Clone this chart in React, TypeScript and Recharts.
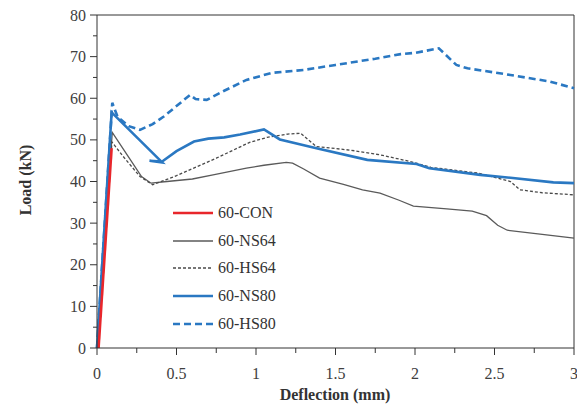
import React from 'react';
import { LineChart, Line, XAxis, YAxis, ReferenceLine } from 'recharts';

// deflection (mm), load (kN) pairs
const con60 = [[0.01, 0], [0.092, 48]];
const ns64 = [
  [0, 0], [0.096, 51.8], [0.2, 45.8], [0.28, 41.2], [0.34, 39.6], [0.44, 40.0], [0.6, 40.6],
  [0.73, 41.6], [0.94, 43.2], [1.05, 43.9], [1.19, 44.6], [1.23, 44.4], [1.3, 43.0], [1.4, 40.8],
  [1.55, 39.3], [1.67, 38.0], [1.78, 37.2], [1.9, 35.5], [1.99, 34.1], [2.2, 33.4], [2.36, 32.9],
  [2.45, 31.8], [2.52, 29.5], [2.58, 28.3], [2.8, 27.3], [3.0, 26.4],
];
const hs64 = [
  [0, 0], [0.094, 49.5], [0.165, 46.0], [0.27, 41.2], [0.35, 39.2], [0.5, 41.4], [0.75, 45.6],
  [0.96, 49.4], [1.07, 50.6], [1.2, 51.4], [1.28, 51.6], [1.38, 48.4], [1.6, 47.5], [1.78, 46.4],
  [1.97, 44.8], [2.1, 43.4], [2.4, 42.0], [2.6, 40.0], [2.66, 38.0], [2.8, 37.3], [3.0, 36.8],
];
const ns80 = [
  [0, 0], [0.092, 56.6], [0.41, 44.6], [0.33, 45.0], [0.41, 44.8], [0.5, 47.3], [0.61, 49.6],
  [0.7, 50.3], [0.8, 50.6], [0.9, 51.3], [1.05, 52.5], [1.15, 50.1], [1.38, 48.0], [1.7, 45.2],
  [2.01, 44.2], [2.09, 43.2], [2.41, 41.6], [2.6, 40.9], [2.87, 39.8], [3.0, 39.6],
];
const hs80 = [
  [0, 0], [0.096, 58.9], [0.13, 55.5], [0.2, 53.3], [0.27, 52.4], [0.35, 53.8], [0.42, 55.6],
  [0.585, 60.8], [0.62, 59.8], [0.69, 59.6], [0.8, 61.8], [0.94, 64.4], [1.1, 66.1], [1.3, 66.8],
  [1.5, 68.0], [1.75, 69.5], [1.91, 70.6], [2.0, 70.9], [2.15, 72.0], [2.26, 68.0], [2.33, 67.2],
  [2.6, 65.6], [2.85, 64.0], [3.0, 62.4],
];

const xTicks = [0, 0.25, 0.5, 0.75, 1, 1.25, 1.5, 1.75, 2, 2.25, 2.5, 2.75, 3];
const yTicks = [0, 5, 10, 15, 20, 25, 30, 35, 40, 45, 50, 55, 60, 65, 70, 75, 80];

const toPoints = (arr: number[][]) => arr.map(([x, y]) => ({ x, y }));

const series = [
  { name: '60-CON', data: con60, color: '#e8262b', width: 2.6, dash: undefined },
  { name: '60-NS64', data: ns64, color: '#5a5a5a', width: 1.3, dash: undefined },
  { name: '60-HS64', data: hs64, color: '#4a4a4a', width: 1.3, dash: '3 2' },
  { name: '60-NS80', data: ns80, color: '#2a78c2', width: 2.6, dash: undefined },
  { name: '60-HS80', data: hs80, color: '#2a78c2', width: 2.6, dash: '7 4' },
];

const FONT = 'Liberation Serif, DejaVu Serif, serif';
const AXIS = '#333';

const YTick = ({ x, y, payload }: any) => {
  const major = payload.value % 10 === 0;
  return (
    <g>
      <line x1={x - (major ? 7 : 4)} x2={x} y1={y} y2={y} stroke={AXIS} />
      {major && (
        <text x={x - 11} y={y} textAnchor="end" dominantBaseline="central" fontSize={16} style={{ fontFamily: FONT }} fill="#404040">
          {payload.value}
        </text>
      )}
    </g>
  );
};

const XTick = ({ x, y, payload }: any) => {
  const major = (payload.value * 2) % 1 === 0;
  return (
    <g>
      <line x1={x} x2={x} y1={y} y2={y + (major ? 7 : 5)} stroke={AXIS} />
      {major && (
        <text x={x} y={y + 25} textAnchor="middle" dominantBaseline="central" fontSize={16} style={{ fontFamily: FONT }} fill="#404040">
          {payload.value}
        </text>
      )}
    </g>
  );
};

// legend sits inside the plot, drawn as an overlay
const LegendBox = () => (
  <div style={{ position: 'absolute', left: 165, top: 191, fontFamily: FONT, fontSize: 16, color: '#333' }}>
    {series.map((s) => (
      <div key={s.name} style={{ display: 'flex', alignItems: 'center', height: 27.8 }}>
        <svg width={42} height={8} style={{ marginRight: 3 }}>
          <line x1={0} x2={40} y1={4} y2={4} stroke={s.color} strokeWidth={s.width} strokeDasharray={s.dash} />
        </svg>
        <span>{s.name}</span>
      </div>
    ))}
  </div>
);

const App = () => {
  return (
    <div style={{ position: 'relative', width: 577, height: 401, fontFamily: FONT }}>
      <LineChart width={577} height={401} margin={{ top: 7, right: 11, left: 0, bottom: 0 }} style={{ overflow: 'visible' }}>
        <XAxis
          type="number"
          dataKey="x"
          domain={[0, 3]}
          ticks={xTicks}
          interval={0}
          allowDuplicatedCategory={false}
          tickLine={false}
          tickSize={0}
          tickMargin={0}
          tick={<XTick />}
          stroke={AXIS}
          height={61}
          label={{
            content: () => (
              <text x={327} y={392} textAnchor="middle" fontSize={16} fontWeight="bold" style={{ fontFamily: FONT }} fill="#333">
                Deflection (mm)
              </text>
            ),
          }}
        />
        <YAxis
          type="number"
          dataKey="y"
          domain={[0, 80]}
          ticks={yTicks}
          interval={0}
          tickLine={false}
          tickSize={0}
          tickMargin={0}
          tick={<YTick />}
          stroke={AXIS}
          width={89}
          label={{
            content: () => (
              <text x={17} y={172} textAnchor="middle" dominantBaseline="central" fontSize={16} fontWeight="bold" style={{ fontFamily: FONT }} fill="#333" transform="rotate(-90 17 172)">
                Load (kN)
              </text>
            ),
          }}
        />
        <ReferenceLine y={80} stroke={AXIS} />
        <ReferenceLine x={3} stroke={AXIS} />
        {series.slice(1).concat(series.slice(0, 1)).map((s) => (
          <Line
            key={s.name}
            data={toPoints(s.data)}
            dataKey="y"
            name={s.name}
            type="linear"
            stroke={s.color}
            strokeWidth={s.width}
            strokeDasharray={s.dash}
            dot={false}
            isAnimationActive={false}
          />
        ))}
      </LineChart>
      <LegendBox />
    </div>
  );
};

export default App;
